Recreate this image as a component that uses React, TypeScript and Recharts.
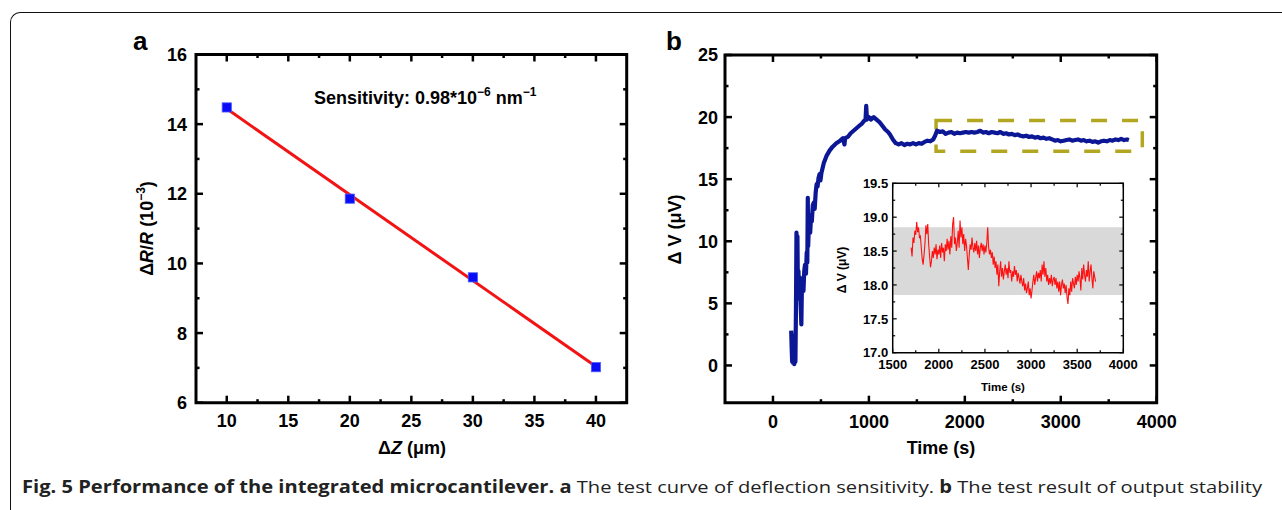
import React from 'react';
import { ComposedChart, XAxis, YAxis, Line, Scatter, ReferenceArea } from 'recharts';

const FONT = '"Liberation Sans", Arial, Helvetica, sans-serif';

// ---------- Panel a: deflection sensitivity ----------
const deflectionUm = [10, 20, 30, 40];
const resistanceChange = [14.48, 11.86, 9.6, 7.02];
const fitDeflection = [10, 40];
const fitResistance = [14.44, 7.04];
const aXTicks = [10, 12.5, 15, 17.5, 20, 22.5, 25, 27.5, 30, 32.5, 35, 37.5, 40];
const aXLabels = [10, 15, 20, 25, 30, 35, 40];
const aYTicks = [6, 7, 8, 9, 10, 11, 12, 13, 14, 15, 16];
const aYLabels = [6, 8, 10, 12, 14, 16];

// ---------- Panel b: output stability ----------
const stabilityTime = [
  190, 195, 200, 205, 210, 216, 222, 228, 234, 240, 245, 250, 255, 260, 266, 272, 280, 288, 296, 302,
  310, 318, 326, 334, 344, 352, 358, 363, 367, 373, 380, 388, 396, 405, 415, 425, 435, 445, 455, 465,
  475, 485, 495, 505, 530, 560, 590, 620, 660, 700, 730, 745, 752, 780, 810, 840, 870, 900, 930, 950,
  965, 972, 980, 1000, 1020, 1050, 1080, 1110, 1140, 1170, 1200, 1220, 1250, 1280, 1310, 1340, 1370, 1400, 1430, 1460,
  1490, 1520, 1550, 1580, 1610, 1640, 1670, 1690, 1710, 1740, 1770, 1800, 1830, 1860, 1890, 1920, 1950, 1980, 2010, 2040,
  2070, 2100, 2130, 2160, 2190, 2220, 2250, 2280, 2310, 2340, 2370, 2400, 2430, 2460, 2490, 2520, 2550, 2580, 2610, 2640,
  2670, 2700, 2730, 2760, 2790, 2820, 2850, 2880, 2910, 2940, 2970, 3000, 3030, 3060, 3090, 3120, 3150, 3180, 3210, 3240,
  3270, 3300, 3330, 3360, 3390, 3420, 3450, 3480, 3510, 3540, 3570, 3600, 3630, 3660, 3690, 3710,
];
const stabilityDV = [
  2.8, 1.4, 0.3, 2.4, 0.2, 1.3, 0.1, 0.9, 0.3, 4.8, 10.7, 8.8, 10.4, 6.0, 7.6, 5.4, 7.1, 5.0, 3.3, 6.6,
  6.9, 6.0, 7.6, 8.1, 7.4, 9.1, 8.3, 13.5, 9.6, 11.1, 12.1, 10.7, 11.9, 11.6, 12.9, 13.1, 12.6, 13.9, 14.6, 14.4,
  15.1, 15.4, 14.9, 15.5, 16.3, 16.9, 17.3, 17.6, 17.9, 18.1, 18.3, 17.8, 18.3, 18.4, 18.7, 18.9, 19.1, 19.3, 19.5, 19.7,
  19.8, 20.9, 19.8, 20.0, 19.8, 20.0, 19.8, 19.6, 19.3, 19.0, 18.8, 18.6, 18.2, 17.9, 17.8, 17.9, 17.75, 17.85, 17.8, 17.9,
  17.8, 17.9, 17.85, 18.0, 18.1, 18.05, 18.2, 18.5, 18.9, 18.8, 18.85, 18.65, 18.75, 18.8, 18.65, 18.75, 18.7, 18.75, 18.8, 18.75,
  18.8, 18.75, 18.8, 18.9, 18.75, 18.8, 18.7, 18.8, 18.75, 18.7, 18.8, 18.65, 18.7, 18.6, 18.65, 18.55, 18.6, 18.5, 18.45, 18.5,
  18.4, 18.45, 18.35, 18.4, 18.3, 18.35, 18.25, 18.3, 18.2, 18.1, 18.15, 18.05, 18.1, 18.15, 18.2, 18.1, 18.15, 18.2, 18.1, 18.15,
  18.05, 18.1, 18.0, 18.05, 17.95, 18.05, 18.1, 18.05, 18.15, 18.1, 18.2, 18.15, 18.25, 18.15, 18.2, 18.15,
];
const bXTicks = [0, 500, 1000, 1500, 2000, 2500, 3000, 3500, 4000];
const bXLabels = [0, 1000, 2000, 3000, 4000];
const bYTicks = [0, 2.5, 5, 7.5, 10, 12.5, 15, 17.5, 20, 22.5, 25];
const bYLabels = [0, 5, 10, 15, 20, 25];
const zoomWindowTime = [1700, 3850];
const zoomWindowDV = [17.25, 19.72];

// ---------- Inset ----------
const insetTime = [
  1700, 1710, 1720, 1730, 1740, 1750, 1760, 1770, 1780, 1790, 1800, 1810, 1820, 1830, 1840, 1850, 1860, 1870, 1880, 1890,
  1900, 1910, 1920, 1930, 1940, 1950, 1960, 1970, 1980, 1990, 2000, 2010, 2020, 2030, 2040, 2050, 2060, 2070, 2080, 2090,
  2100, 2110, 2120, 2130, 2140, 2150, 2160, 2170, 2180, 2190, 2200, 2210, 2220, 2230, 2240, 2250, 2260, 2270, 2280, 2290,
  2300, 2310, 2320, 2330, 2340, 2350, 2360, 2370, 2380, 2390, 2400, 2410, 2420, 2430, 2440, 2450, 2460, 2470, 2480, 2490,
  2500, 2510, 2520, 2530, 2540, 2550, 2560, 2570, 2580, 2590, 2600, 2610, 2620, 2630, 2640, 2650, 2660, 2670, 2680, 2690,
  2700, 2710, 2720, 2730, 2740, 2750, 2760, 2770, 2780, 2790, 2800, 2810, 2820, 2830, 2840, 2850, 2860, 2870, 2880, 2890,
  2900, 2910, 2920, 2930, 2940, 2950, 2960, 2970, 2980, 2990, 3000, 3010, 3020, 3030, 3040, 3050, 3060, 3070, 3080, 3090,
  3100, 3110, 3120, 3130, 3140, 3150, 3160, 3170, 3180, 3190, 3200, 3210, 3220, 3230, 3240, 3250, 3260, 3270, 3280, 3290,
  3300, 3310, 3320, 3330, 3340, 3350, 3360, 3370, 3380, 3390, 3400, 3410, 3420, 3430, 3440, 3450, 3460, 3470, 3480, 3490,
  3500, 3510, 3520, 3530, 3540, 3550, 3560, 3570, 3580, 3590, 3600, 3610, 3620, 3630, 3640, 3650, 3660, 3670, 3680, 3690,
  3700,
];
const insetDV = [
  18.55, 18.42, 18.70, 18.62, 18.80, 18.74, 18.93, 18.78, 18.85, 18.70, 18.72, 18.55, 18.38, 18.30, 18.45, 18.62, 18.88, 18.75, 18.90, 18.60,
  18.42, 18.26, 18.35, 18.50, 18.40, 18.55, 18.45, 18.60, 18.38, 18.52, 18.45, 18.58, 18.40, 18.62, 18.48, 18.55, 18.35, 18.60, 18.50, 18.68,
  18.52, 18.65, 18.45, 18.72, 18.55, 18.90, 19.00, 18.60, 18.70, 18.50, 18.62, 18.80, 18.55, 18.95, 18.70, 18.85, 18.60, 18.75, 18.50, 18.68,
  18.58, 18.40, 18.22, 18.45, 18.60, 18.52, 18.70, 18.55, 18.48, 18.62, 18.50, 18.65, 18.45, 18.58, 18.40, 18.55, 18.62, 18.50, 18.60, 18.45,
  18.58, 18.48, 18.62, 18.85, 18.55, 18.45, 18.52, 18.40, 18.48, 18.30, 18.42, 18.25, 18.35, 18.15, 18.30, 17.98, 18.20, 18.35, 18.12, 18.25,
  18.08, 18.20, 18.30, 18.15, 18.25, 18.10, 18.35, 18.18, 18.22, 18.05, 18.20, 18.12, 18.28, 18.15, 18.22, 18.05, 18.18, 18.10, 18.02, 18.15,
  18.05, 17.98, 18.10, 17.92, 18.02, 17.88, 17.95, 18.05, 17.85, 17.95, 17.80, 17.92, 18.05, 18.15, 18.00, 18.10, 18.20, 18.05, 18.18, 18.10,
  18.22, 18.05, 18.30, 18.15, 18.35, 18.12, 18.25, 18.05, 18.15, 18.00, 18.10, 18.02, 18.15, 17.98, 18.08, 18.12, 18.00, 18.10, 17.95, 18.05,
  17.90, 18.05, 17.85, 18.00, 18.08, 17.95, 18.02, 17.88, 18.00, 17.82, 17.72, 17.95, 17.85, 18.05, 17.90, 18.10, 18.02, 17.95, 18.12, 18.00,
  18.15, 18.05, 18.20, 18.10, 17.92, 18.25, 18.08, 18.30, 18.15, 18.05, 18.22, 18.12, 18.35, 18.05, 18.20, 18.30, 18.10, 17.95, 18.20, 18.12,
  18.05,
];
const insetBand = [17.85, 18.85];
const iXTicks = [1500, 1750, 2000, 2250, 2500, 2750, 3000, 3250, 3500, 3750, 4000];
const iXLabels = [1500, 2000, 2500, 3000, 3500, 4000];
const iYTicks = [17.0, 17.25, 17.5, 17.75, 18.0, 18.25, 18.5, 18.75, 19.0, 19.25, 19.5];
const iYLabels = [17.0, 17.5, 18.0, 18.5, 19.0, 19.5];

// ---------- tables for the library ----------
const scatterData = deflectionUm.map((x, i) => ({ x, y: resistanceChange[i] }));
const fitData = fitDeflection.map((x, i) => ({ x, y: fitResistance[i] }));
const stabilityData = stabilityTime.map((t, i) => ({ t, v: stabilityDV[i] }));
const insetData = insetTime.map((t, i) => ({ t, v: insetDV[i] }));

type Side = 'bottom' | 'top' | 'left' | 'right';
interface TickStyle {
  major: number;
  minor: number;
  sw: number;
  font: number;
  offset: number;
  labels: boolean;
  digits: number;
}

function makeTick(side: Side, labelValues: number[], st: TickStyle) {
  return function TickMark(props: any) {
    const { x, y, payload } = props;
    const v = payload.value as number;
    const isMajor = labelValues.some((l) => Math.abs(l - v) < 1e-6);
    const len = isMajor ? st.major : st.minor;
    let x2 = x;
    let y2 = y;
    if (side === 'bottom') y2 = y - len;
    if (side === 'top') y2 = y + len;
    if (side === 'left') x2 = x + len;
    if (side === 'right') x2 = x - len;
    let label: React.ReactNode = null;
    if (st.labels && isMajor) {
      const txt = v.toFixed(st.digits);
      if (side === 'bottom') {
        label = (
          <text x={x} y={y + st.offset} textAnchor="middle" fontFamily={FONT} fontWeight="bold" fontSize={st.font} fill="#000">
            {txt}
          </text>
        );
      } else if (side === 'left') {
        label = (
          <text x={x - st.offset} y={y + st.font * 0.36} textAnchor="end" fontFamily={FONT} fontWeight="bold" fontSize={st.font} fill="#000">
            {txt}
          </text>
        );
      }
    }
    return (
      <g>
        <line x1={x} y1={y} x2={x2} y2={y2} stroke="#000" strokeWidth={st.sw} />
        {label}
      </g>
    );
  };
}

const mainStyle = (labels: boolean, offset: number): TickStyle => ({
  major: 7,
  minor: 3.5,
  sw: 2.5,
  font: 18,
  offset,
  labels,
  digits: 0,
});
const insetStyle = (labels: boolean, offset: number, digits: number): TickStyle => ({
  major: 4,
  minor: 2.5,
  sw: 1.2,
  font: 13,
  offset,
  labels,
  digits,
});

function PanelA() {
  const xd: [number, number] = [7.5, 42.5];
  const yd: [number, number] = [6, 16];
  return (
    <div style={{ position: 'absolute', left: 100, top: 20 }}>
      <ComposedChart width={560} height={440} margin={{ top: 24.5, right: 23.3, bottom: 17.3, left: 36 }}>
        <XAxis xAxisId="b" dataKey="x" type="number" domain={xd} allowDataOverflow ticks={aXTicks} interval={0}
          height={40} tickSize={0} tickMargin={0} axisLine={false} tickLine={false}
          tick={makeTick('bottom', aXLabels, mainStyle(true, 24.5))} />
        <XAxis xAxisId="t" dataKey="x" type="number" orientation="top" domain={xd} allowDataOverflow ticks={aXTicks} interval={0}
          height={10} tickSize={0} tickMargin={0} axisLine={false} tickLine={false}
          tick={makeTick('top', aXLabels, mainStyle(false, 0))} />
        <YAxis yAxisId="l" dataKey="y" type="number" domain={yd} allowDataOverflow ticks={aYTicks} interval={0}
          width={60} tickSize={0} tickMargin={0} axisLine={false} tickLine={false}
          tick={makeTick('left', aYLabels, mainStyle(true, 9))} />
        <YAxis yAxisId="r" dataKey="y" type="number" orientation="right" domain={yd} allowDataOverflow ticks={aYTicks} interval={0}
          width={10} tickSize={0} tickMargin={0} axisLine={false} tickLine={false}
          tick={makeTick('right', aYLabels, mainStyle(false, 0))} />
        <ReferenceArea xAxisId="b" yAxisId="l" x1={xd[0]} x2={xd[1]} y1={yd[0]} y2={yd[1]}
          fill="none" stroke="#000" strokeWidth={3} />
        <Scatter xAxisId="b" yAxisId="l" data={scatterData} dataKey="y" isAnimationActive={false}
          shape={(p: any) => (
            <rect x={p.cx - 4.6} y={p.cy - 4.6} width={9.2} height={9.2} fill="#0a0cf5" stroke="#4a5cff" strokeWidth={0.8} />
          )} />
        <Line xAxisId="b" yAxisId="l" data={fitData} dataKey="y" type="linear" stroke="#f21414" strokeWidth={3}
          dot={false} isAnimationActive={false} />
      </ComposedChart>
    </div>
  );
}

function PanelB() {
  const xd: [number, number] = [-500, 4000];
  const yd: [number, number] = [-3, 25];
  return (
    <div style={{ position: 'absolute', left: 650, top: 20 }}>
      <ComposedChart width={540} height={440} margin={{ top: 25, right: 23.3, bottom: 17.3, left: 15 }}>
        <XAxis xAxisId="b" dataKey="t" type="number" domain={xd} allowDataOverflow ticks={bXTicks} interval={0}
          height={40} tickSize={0} tickMargin={0} axisLine={false} tickLine={false}
          tick={makeTick('bottom', bXLabels, mainStyle(true, 25))} />
        <XAxis xAxisId="t" dataKey="t" type="number" orientation="top" domain={xd} allowDataOverflow ticks={bXTicks} interval={0}
          height={10} tickSize={0} tickMargin={0} axisLine={false} tickLine={false}
          tick={makeTick('top', bXLabels, mainStyle(false, 0))} />
        <YAxis yAxisId="l" dataKey="v" type="number" domain={yd} allowDataOverflow ticks={bYTicks} interval={0}
          width={60} tickSize={0} tickMargin={0} axisLine={false} tickLine={false}
          tick={makeTick('left', bYLabels, mainStyle(true, 7))} />
        <YAxis yAxisId="r" dataKey="v" type="number" orientation="right" domain={yd} allowDataOverflow ticks={bYTicks} interval={0}
          width={10} tickSize={0} tickMargin={0} axisLine={false} tickLine={false}
          tick={makeTick('right', bYLabels, mainStyle(false, 0))} />
        <ReferenceArea xAxisId="b" yAxisId="l" x1={xd[0]} x2={xd[1]} y1={yd[0]} y2={yd[1]}
          fill="none" stroke="#000" strokeWidth={3} />
        <Line xAxisId="b" yAxisId="l" data={stabilityData} dataKey="v" type="linear" stroke="#0c1796" strokeWidth={4.2}
          strokeLinejoin="round" dot={false} isAnimationActive={false} />
        <ReferenceArea xAxisId="b" yAxisId="l" x1={zoomWindowTime[0]} x2={zoomWindowTime[1]} y1={zoomWindowDV[0]} y2={zoomWindowDV[1]}
          fill="none" stroke="#b3a722" strokeWidth={3.5} strokeDasharray="16 15" />
      </ComposedChart>
    </div>
  );
}

function Inset() {
  const xd: [number, number] = [1500, 4000];
  const yd: [number, number] = [17, 19.5];
  return (
    <div style={{ position: 'absolute', left: 830, top: 175 }}>
      <ComposedChart width={310} height={225} margin={{ top: 4.3, right: 12.7, bottom: 7.3, left: 10.7 }}>
        <XAxis xAxisId="b" dataKey="t" type="number" domain={xd} allowDataOverflow ticks={iXTicks} interval={0}
          height={40} tickSize={0} tickMargin={0} axisLine={false} tickLine={false}
          tick={makeTick('bottom', iXLabels, insetStyle(true, 16.6, 0))} />
        <XAxis xAxisId="t" dataKey="t" type="number" orientation="top" domain={xd} allowDataOverflow ticks={iXTicks} interval={0}
          height={4} tickSize={0} tickMargin={0} axisLine={false} tickLine={false}
          tick={makeTick('top', iXLabels, insetStyle(false, 0, 0))} />
        <YAxis yAxisId="l" dataKey="v" type="number" domain={yd} allowDataOverflow ticks={iYTicks} interval={0}
          width={52} tickSize={0} tickMargin={0} axisLine={false} tickLine={false}
          tick={makeTick('left', iYLabels, insetStyle(true, 4.5, 1))} />
        <YAxis yAxisId="r" dataKey="v" type="number" orientation="right" domain={yd} allowDataOverflow ticks={iYTicks} interval={0}
          width={4} tickSize={0} tickMargin={0} axisLine={false} tickLine={false}
          tick={makeTick('right', iYLabels, insetStyle(false, 0, 1))} />
        <ReferenceArea xAxisId="b" yAxisId="l" x1={xd[0]} x2={xd[1]} y1={insetBand[0]} y2={insetBand[1]}
          fill="#d9d9d9" fillOpacity={1} stroke="none" />
        <Line xAxisId="b" yAxisId="l" data={insetData} dataKey="v" type="linear" stroke="#ff1010" strokeWidth={1.1}
          dot={false} isAnimationActive={false} />
        <ReferenceArea xAxisId="b" yAxisId="l" x1={xd[0]} x2={xd[1]} y1={yd[0]} y2={yd[1]}
          fill="none" stroke="#000" strokeWidth={1.5} />
      </ComposedChart>
    </div>
  );
}

function Overlay() {
  const bold = { fontFamily: FONT, fontWeight: 'bold' as const, fill: '#000' };
  return (
    <svg width={1282} height={510} style={{ position: 'absolute', left: 0, top: 0, pointerEvents: 'none' }}>
      <text x={133} y={50} fontSize={26} {...bold}>a</text>
      <text x={666} y={50} fontSize={26} {...bold}>b</text>
      {/* panel a annotation */}
      <text x={314} y={104} fontSize={18} {...bold}>
        Sensitivity: 0.98*10<tspan fontSize={12} dy={-8}>−6</tspan>
        <tspan dy={8}> nm</tspan>
        <tspan fontSize={12} dy={-8}>−1</tspan>
      </text>
      {/* panel a axis titles */}
      <text x={412} y={454} fontSize={18} textAnchor="middle" {...bold}>
        Δ<tspan fontStyle="italic">Z</tspan> (μm)
      </text>
      <text transform="translate(153,228.5) rotate(-90)" x={0} y={0} fontSize={18} textAnchor="middle" {...bold}>
        Δ<tspan fontStyle="italic">R</tspan>/<tspan fontStyle="italic">R</tspan> (10<tspan fontSize={12} dy={-8}>−3</tspan><tspan dy={8}>)</tspan>
      </text>
      {/* panel b axis titles */}
      <text x={941} y={454} fontSize={18} textAnchor="middle" {...bold}>Time (s)</text>
      <text transform="translate(681,229.5) rotate(-90)" x={0} y={0} fontSize={18} textAnchor="middle" {...bold}>
        Δ V (μV)
      </text>
      {/* inset axis titles */}
      <text x={1003} y={390.5} fontSize={11.5} textAnchor="middle" {...bold}>Time (s)</text>
      <text transform="translate(845.5,270) rotate(-90)" x={0} y={0} fontSize={12} textAnchor="middle" {...bold}>
        Δ V (μV)
      </text>
      {/* caption */}
      <text x={22} y={493} fontFamily='"Open Sans", "Noto Sans", sans-serif' fontSize={17} fill="#222"
        textLength={1240} lengthAdjust="spacingAndGlyphs">
        <tspan fontWeight="bold">Fig. 5 Performance of the integrated microcantilever. a</tspan>
        <tspan> The test curve of deflection sensitivity. </tspan>
        <tspan fontWeight="bold">b</tspan>
        <tspan> The test result of output stability</tspan>
      </text>
    </svg>
  );
}

export default function App() {
  return (
    <div style={{ position: 'absolute', left: 0, top: 0, width: 1282, height: 510, background: '#fff', overflow: 'hidden' }}>
      <div style={{
        position: 'absolute', left: 10, top: 12, width: 1400, height: 700,
        borderLeft: '1.7px solid #111', borderTop: '1.7px solid #111', borderTopLeftRadius: 10,
      }} />
      <PanelA />
      <PanelB />
      <Inset />
      <Overlay />
    </div>
  );
}
